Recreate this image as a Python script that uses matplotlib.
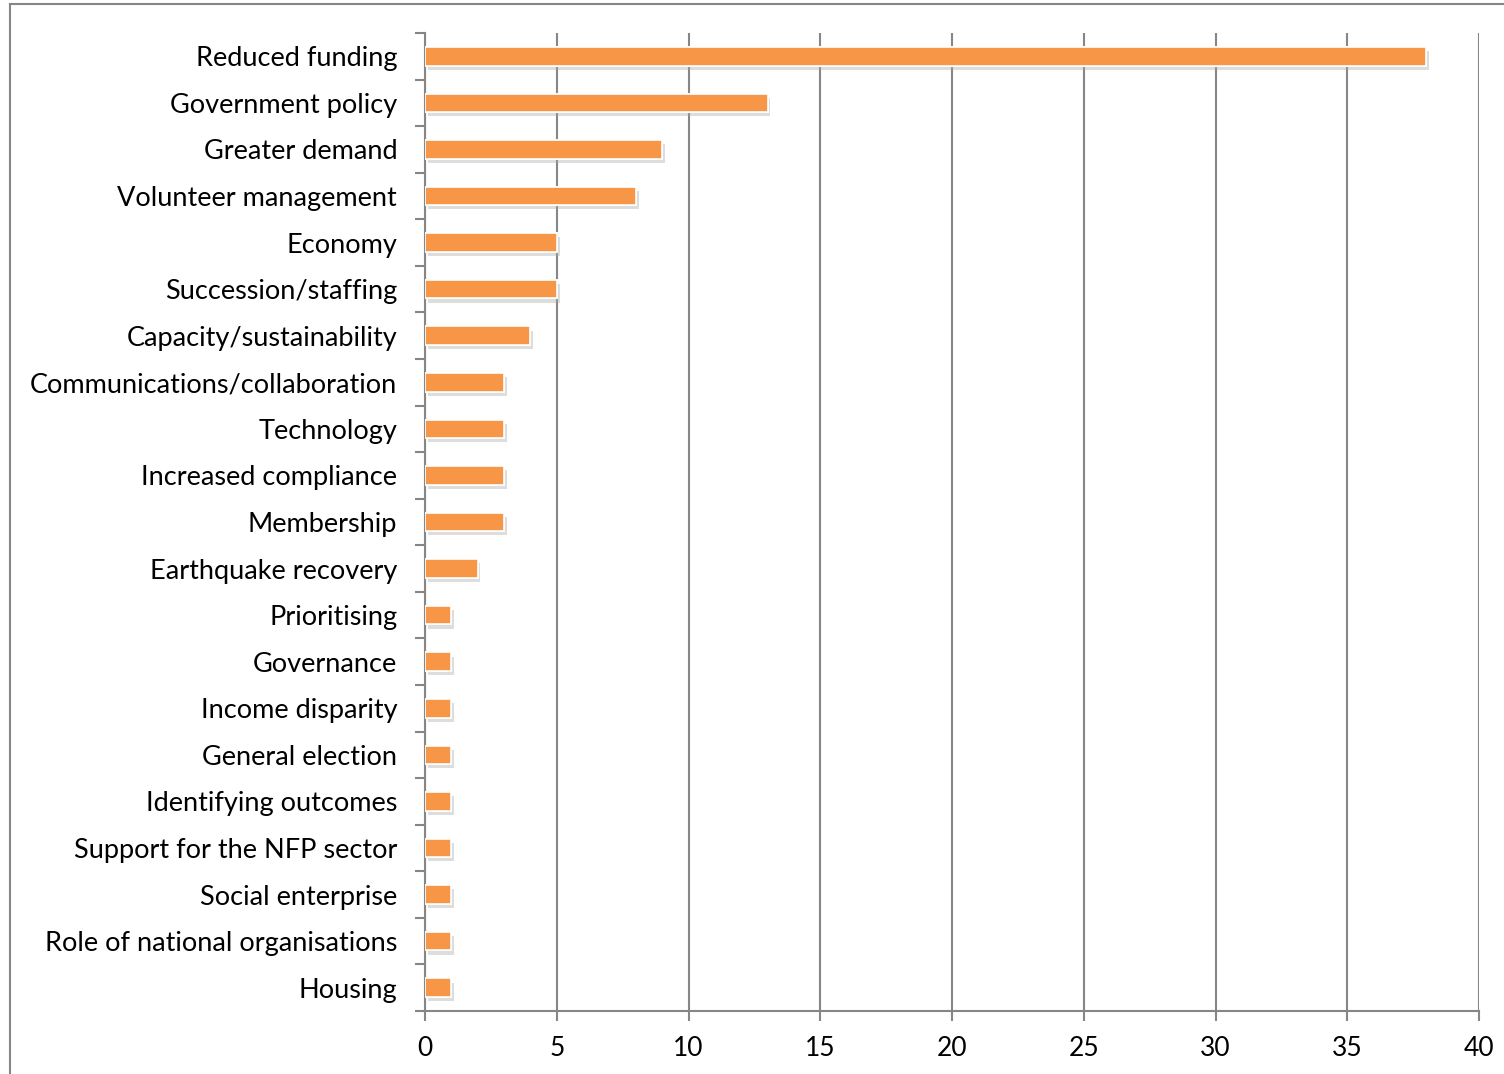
import numpy as np
import matplotlib.pyplot as plt
import matplotlib.patheffects as pe
from matplotlib.lines import Line2D

issues = ['Reduced funding', 'Government policy', 'Greater demand',
          'Volunteer management', 'Economy', 'Succession/staffing',
          'Capacity/sustainability', 'Communications/collaboration',
          'Technology', 'Increased compliance', 'Membership',
          'Earthquake recovery', 'Prioritising', 'Governance',
          'Income disparity', 'General election', 'Identifying outcomes',
          'Support for the NFP sector', 'Social enterprise',
          'Role of national organisations', 'Housing']
counts = [38, 13, 9, 8, 5, 5, 4, 3, 3, 3, 3, 2, 1, 1, 1, 1, 1, 1, 1, 1, 1]
xticks = [0, 5, 10, 15, 20, 25, 30, 35, 40]

plt.rcParams['font.family'] = ['Lato', 'DejaVu Sans']
grey = '#868686'

fig = plt.figure(figsize=(15.04, 10.74), dpi=100)
ax = fig.add_axes([425 / 1504, 1 - 1011 / 1074, 1054 / 1504, 978 / 1074])

y = np.arange(len(issues))
shadow = [pe.withSimplePatchShadow(offset=(2, -3), shadow_rgbFace='#aaaaaa', alpha=0.4),
          pe.Normal()]
bars = ax.barh(y, counts, height=0.4, color='#F79646', edgecolor='white',
               linewidth=1.2, zorder=3)
for b in bars:
    b.set_path_effects(shadow)

ax.set_ylim(len(issues) - 0.5, -0.5)
ax.set_xlim(0, 40)
ax.set_xticks(xticks)
ax.set_yticks(y)
ax.set_yticklabels(issues)
ax.set_yticks(np.arange(-0.5, len(issues), 1), minor=True)

ax.grid(axis='x', color=grey, linewidth=1.5, zorder=0)
ax.set_axisbelow(True)
for side in ['top', 'right']:
    ax.spines[side].set_visible(False)
for side in ['left', 'bottom']:
    ax.spines[side].set_color(grey)
    ax.spines[side].set_linewidth(1.5)

ax.tick_params(axis='y', which='major', length=0, pad=20, labelsize=19.5)
ax.tick_params(axis='y', which='minor', length=7, width=1.5, color=grey)
ax.tick_params(axis='x', length=7, width=1.5, color=grey, labelsize=19, pad=11)

# outer chart frame
fig.add_artist(Line2D([10 / 1504, 10 / 1504], [0, 1 - 4 / 1074], color=grey, linewidth=1.5))
fig.add_artist(Line2D([10 / 1504, 1], [1 - 4 / 1074, 1 - 4 / 1074], color=grey, linewidth=1.5))

fig.savefig('out.png', dpi=100)
